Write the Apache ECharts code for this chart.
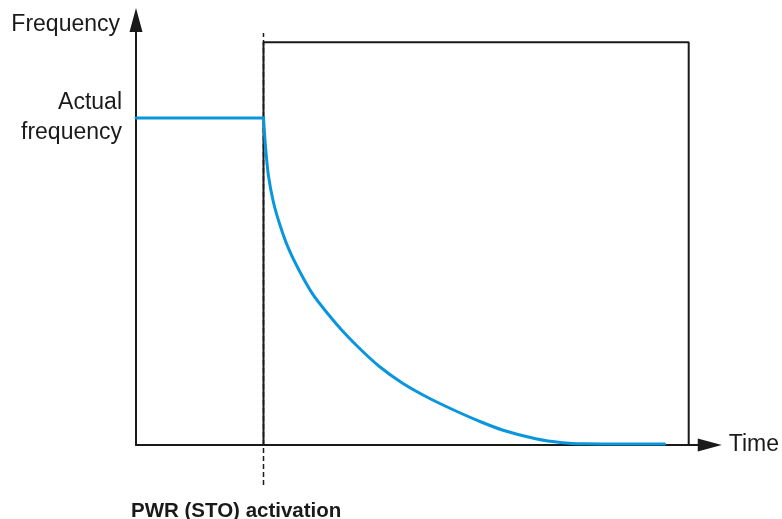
<!DOCTYPE html>
<html>
<head>
<meta charset="utf-8">
<script src="https://cdn.jsdelivr.net/npm/echarts@6/dist/echarts.min.js"></script>
<style>
html,body{margin:0;padding:0;background:#fff;}
#chart{width:782px;height:519px;}
</style>
</head>
<body>
<div id="chart"></div>
<script>
// ---- data ----
var activationTime = 10;
var actualFrequency = 100;
var xMax = 45;
var yMax = 130;
var yTickLabels = { 100: 'Actual\nfrequency' };
var axisNames = { x: 'Time', y: 'Frequency' };
var activationLabel = 'PWR (STO) activation';

// frequency before activation (time, frequency)
var holdTime = [0, 10];
var holdFreq = [100, 100];

// frequency decay after activation (time, frequency)
var decayTime = [10, 10.07, 10.17, 10.38, 10.77, 11.29, 11.95, 12.85, 13.90, 15.08, 16.22, 17.52, 19.09, 20.91, 23.0, 25.09, 26.91, 28.73, 31.35, 33.43, 35.26, 37.08, 41.46];
var decayFreq = [100, 96.0, 90.7, 82.6, 74.4, 67.3, 60.2, 53.0, 45.9, 40.0, 34.8, 29.6, 24.0, 18.9, 14.3, 10.4, 7.3, 4.6, 1.9, 0.7, 0.35, 0.3, 0.3];

// box (time window after activation)
var boxTime = [10, 10, 43.35, 43.35];
var boxFreq = [0, 123.2, 123.2, 0];

// dashed activation marker
var markerTime = [10, 10];
var markerFreq = [-12.2, 126];

function zip(a, b) { return a.map(function (v, i) { return [v, b[i]]; }); }

var chart = echarts.init(document.getElementById('chart'), null, { renderer: 'canvas' });
var txtColor = '#1a1a1a';
var font = 'Liberation Sans, Arial, sans-serif';
var blue = '#0a96dc';

chart.setOption({
  animation: false,
  backgroundColor: '#ffffff',
  grid: { left: 136, right: 71, top: 20, bottom: 74, containLabel: false },
  xAxis: {
    type: 'value', min: 0, max: xMax,
    name: axisNames.x, nameLocation: 'end', nameGap: 19,
    nameTextStyle: { color: txtColor, fontSize: 23, fontFamily: font, verticalAlign: 'middle', padding: [0, 0, 6, 0] },
    axisLine: { show: true, onZero: false, symbol: ['none', 'triangle'], symbolSize: [13, 24], lineStyle: { color: txtColor, width: 2 } },
    axisTick: { show: false }, axisLabel: { show: false }, splitLine: { show: false }
  },
  yAxis: {
    type: 'value', min: 0, max: yMax, interval: 10,
    name: axisNames.y, nameLocation: 'end', nameGap: -5,
    nameTextStyle: { color: txtColor, fontSize: 23, fontFamily: font, align: 'right', verticalAlign: 'middle', padding: [0, 16, 0, 0] },
    axisLine: { show: true, onZero: false, symbol: ['none', 'triangle'], symbolSize: [13, 24], lineStyle: { color: txtColor, width: 2 } },
    axisTick: { show: false }, splitLine: { show: false },
    axisLabel: {
      show: true, margin: 14, color: txtColor, fontSize: 23, fontFamily: font, lineHeight: 30, align: 'right',
      formatter: function (v) { return yTickLabels[v] || ''; }
    }
  },
  graphic: [{
    type: 'text', left: 131, top: 501,
    style: { text: activationLabel, fill: txtColor, font: 'bold 20.5px ' + font }
  }],
  series: [
    {
      type: 'line', data: zip(boxTime, boxFreq), symbol: 'none', silent: true,
      lineStyle: { color: '#1a1a1a', width: 2 }, z: 2
    },
    {
      type: 'line', data: zip(markerTime, markerFreq), symbol: 'none', silent: true, clip: false,
      lineStyle: { color: '#1a1a1a', width: 1.5, type: [5, 3] }, z: 3
    },
    {
      type: 'line', data: zip(holdTime, holdFreq), symbol: 'none', silent: true,
      lineStyle: { color: blue, width: 3, cap: 'round' }, z: 5
    },
    {
      type: 'line', data: zip(decayTime, decayFreq), symbol: 'none', smooth: 0.3, silent: true,
      lineStyle: { color: blue, width: 3, cap: 'round', join: 'round' }, z: 5
    }
  ]
});
</script>
</body>
</html>
